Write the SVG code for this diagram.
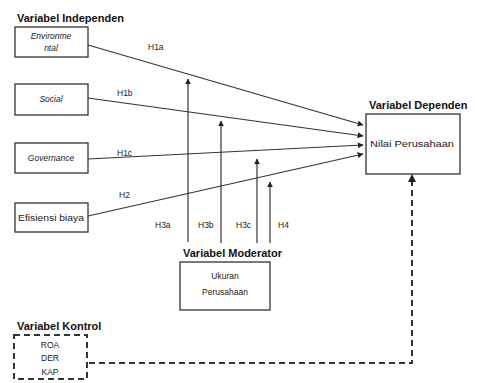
<svg xmlns="http://www.w3.org/2000/svg" width="483" height="383" viewBox="0 0 483 383">
<style>
.box{fill:#fff;stroke:#333;stroke-width:1.3}
.dash{fill:none;stroke:#333;stroke-width:2;stroke-dasharray:6,4}
.ttl{font-family:"Liberation Sans",Arial,sans-serif;font-weight:bold;font-size:11px;fill:#111}
.t{font-family:"Liberation Sans",Arial,sans-serif;font-size:8.5px;fill:#222}
.ti{font-family:"Liberation Sans",Arial,sans-serif;font-size:8.5px;font-style:italic;fill:#222}
.ln{stroke:#333;stroke-width:1.2;fill:none}
</style>
<defs>
<marker id="ar" viewBox="0 0 10 10" refX="9" refY="5" markerWidth="5" markerHeight="5" orient="auto">
<path d="M0,0 L10,5 L0,10 z" fill="#222"/>
</marker>
</defs>
<g id="connectors">
<line class="ln" x1="88" y1="45" x2="363" y2="125" marker-end="url(#ar)"/>
<line class="ln" x1="88" y1="98" x2="363" y2="136" marker-end="url(#ar)"/>
<line class="ln" x1="88" y1="159" x2="363" y2="145" marker-end="url(#ar)"/>
<line class="ln" x1="88" y1="216" x2="363" y2="154" marker-end="url(#ar)"/>
<line class="ln" x1="188" y1="242" x2="188" y2="79" marker-end="url(#ar)"/>
<line class="ln" x1="221" y1="243" x2="221" y2="121" marker-end="url(#ar)"/>
<line class="ln" x1="257" y1="243" x2="257" y2="159" marker-end="url(#ar)"/>
<line class="ln" x1="270" y1="243" x2="270" y2="182" marker-end="url(#ar)"/>
<path class="dash" d="M89,363 H412 V178"/>
<path d="M408,182 L412,174 L416,182 z" fill="#222"/>
<text class="t" x="148" y="50">H1a</text>
<text class="t" x="117" y="96">H1b</text>
<text class="t" x="117" y="156">H1c</text>
<text class="t" x="119" y="198">H2</text>
<text class="t" x="155" y="228">H3a</text>
<text class="t" x="198" y="228">H3b</text>
<text class="t" x="236" y="228">H3c</text>
<text class="t" x="278" y="228">H4</text>
</g>
<g id="label-independen"><text class="ttl" x="17" y="22">Variabel Independen</text></g>
<g id="node-environmental">
<rect class="box" x="15" y="27" width="73" height="30"/>
<text class="ti" x="51" y="39" text-anchor="middle">Environme</text>
<text class="ti" x="51" y="51" text-anchor="middle">ntal</text>
</g>
<g id="node-social">
<rect class="box" x="15" y="84" width="73" height="31"/>
<text class="ti" x="51" y="102" text-anchor="middle">Social</text>
</g>
<g id="node-governance">
<rect class="box" x="15" y="143" width="73" height="30"/>
<text class="ti" x="51" y="161" text-anchor="middle">Governance</text>
</g>
<g id="node-efisiensi">
<rect class="box" x="15" y="203" width="73" height="29"/>
<text class="t" x="51" y="221" text-anchor="middle" textLength="66" lengthAdjust="spacingAndGlyphs">Efisiensi biaya</text>
</g>
<g id="node-dependen">
<text class="ttl" x="369" y="109">Variabel Dependen</text>
<rect class="box" x="366" y="114" width="94" height="60"/>
<text class="t" x="412" y="147" text-anchor="middle" textLength="84" lengthAdjust="spacingAndGlyphs">Nilai Perusahaan</text>
</g>
<g id="node-moderator">
<text class="ttl" x="183" y="257">Variabel Moderator</text>
<rect class="box" x="180" y="262" width="90" height="48"/>
<text class="t" x="225" y="279" text-anchor="middle">Ukuran</text>
<text class="t" x="225" y="295" text-anchor="middle">Perusahaan</text>
</g>
<g id="node-kontrol">
<text class="ttl" x="17" y="330">Variabel Kontrol</text>
<rect class="dash" x="14" y="335" width="73" height="44"/>
<text class="t" x="50" y="348" text-anchor="middle">ROA</text>
<text class="t" x="50" y="361" text-anchor="middle">DER</text>
<text class="t" x="50" y="375" text-anchor="middle">KAP</text>
</g>
</svg>
